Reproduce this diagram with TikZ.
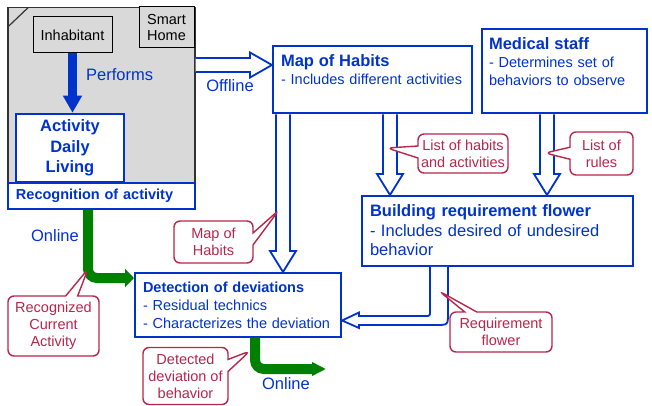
\documentclass[tikz,border=0pt]{standalone}
\usepackage{fontspec}
\setmainfont{Liberation Sans}
\usetikzlibrary{arrows.meta,calc,shapes.callouts}

\definecolor{homeblue}{RGB}{0,51,204}
\definecolor{notered}{RGB}{184,38,76}
\definecolor{onlinegreen}{RGB}{0,128,0}
\definecolor{homegray}{RGB}{217,217,217}

\newcommand{\txtsize}{\fontsize{14.5}{18}\selectfont}
\newcommand{\bigsize}{\fontsize{16.5}{20}\selectfont}
\newcommand{\boxhead}[1]{{\bigsize\bfseries #1}}

\begin{document}
\begin{tikzpicture}[x=1pt, y=-1pt,
	every node/.style={font=\txtsize},
	habitbox/.style={draw=homeblue, line width=2pt, fill=white, text=homeblue, align=left, anchor=north west, inner xsep=8pt, inner ysep=9pt},
	graybox/.style={draw=black, fill=homegray, inner sep=0pt, line width=1pt},
	lbl/.style={text=homeblue, font=\bigsize},
	note/.style={rectangle callout, rounded corners=6pt, draw=notered, line width=1.4pt, fill=white, text=notered, align=center, inner sep=1pt, callout pointer width=12pt, font=\fontsize{14.5}{17}\selectfont},
	hollow/.style={draw=homeblue, line width=1.8pt, fill=white},
	online/.style={draw=onlinegreen, line width=10pt, rounded corners=9pt}]
	\useasboundingbox (0,0) rectangle (652,406);

	% smart home
	\node[graybox, draw=black!80, line width=1.5pt, minimum width=187pt, minimum height=183pt, anchor=north west] (home) at (7,7) {};
	\draw[black!80, line width=1.2pt] ($(home.north west)+(0.75,20)$) -- ($(home.north west)+(21,0.75)$);
	\node[graybox, minimum width=79pt, minimum height=36pt] (inh) at (72.5,35) {Inhabitant};
	\node[graybox, minimum width=55pt, minimum height=41pt, align=center, font=\fontsize{14.5}{16}\selectfont] (sh) at (166.5,27.5) {Smart\\Home};
	\node[habitbox, anchor=center, align=center, line width=2.5pt, minimum width=108pt, minimum height=68pt, inner sep=0pt, font=\fontsize{16.5}{20.5}\selectfont\bfseries] (adl) at (70,148) {Activity\\Daily\\Living};
	\node[habitbox, inner ysep=0pt, text width=171pt, minimum height=26pt] (reco) at (7,182) {\bfseries Recognition of activity};
	\draw[homeblue, line width=8.5pt, -{Triangle[length=17pt,width=18pt]}] (inh.south) -- (inh.south |- adl.north)
		node[lbl, pos=0.35, right=6pt] (perf) {Performs};

	% boxes
	\node[habitbox, text width=183pt, text depth=37.5pt] (map) at (272,45) {\boxhead{Map of Habits}\\- Includes different activities};
	\node[habitbox, inner xsep=7pt, text width=151pt, text depth=54.5pt] (med) at (481,28) {\boxhead{Medical staff}\\- Determines set of\\behaviors to observe};
	\node[habitbox, text width=255pt, text depth=40pt, font=\fontsize{16.5}{19.5}\selectfont] (build) at (361,195) {\textbf{Building requirement flower}\\- Includes desired of undesired\\behavior};
	\node[habitbox, text width=190pt, text depth=35pt] (det) at (134,272) {\textbf{Detection of deviations}\\- Residual technics\\- Characterizes the deviation};

	% offline arrow
	\coordinate (offl) at (0,65);
	\draw[hollow] ($(home.east |- offl)+(0,-7)$) -- ($(map.west |- offl)+(-22,-7)$) -- ($(map.west |- offl)+(-22,-12.5)$) -- (map.west |- offl)
		-- ($(map.west |- offl)+(-22,12.5)$) -- ($(map.west |- offl)+(-22,7)$) -- ($(home.east |- offl)+(0,7)$);
	\node[lbl] (offtxt) at (230,86) {Offline};

	% block arrows down
	\foreach \x/\from/\to in {283/map/det, 390/map/build, 547/med/build}{
		\coordinate (ax) at (\x,0);
		\draw[hollow] ($(\from.south -| ax)+(-7,0)$) -- ($(\to.north -| ax)+(-7,-21)$) -- ($(\to.north -| ax)+(-13,-21)$) -- (\to.north -| ax)
			-- ($(\to.north -| ax)+(13,-21)$) -- ($(\to.north -| ax)+(7,-21)$) -- ($(\from.south -| ax)+(7,0)$);
	}

	% requirement flower back to detection
	\coordinate (bend) at (439,320.5);
	\draw[hollow] ($(build.south -| bend)+(-9,0)$) -- ($(bend)+(-9,-9.5)$) .. controls ($(bend)+(-9,-4.5)$) .. ($(bend)+(-14,-4.5)$)
		-- ($(det.east |- bend)+(17,-4.5)$) -- ($(det.east |- bend)+(17,-8)$) -- (det.east |- bend) -- ($(det.east |- bend)+(17,7.5)$)
		-- ($(det.east |- bend)+(17,4.5)$) -- ($(bend)+(-3,4.5)$) .. controls ($(bend)+(9,4.5)$) .. ($(bend)+(9,-7.5)$)
		-- ($(build.south -| bend)+(9,0)$);

	% online arrows
	\coordinate (g1) at (88,0);
	\draw[online, -{Triangle[length=9pt,width=18pt]}] (reco.south -| g1) |- ([yshift=-6pt]det.north west);
	\node[lbl] (on1) at (55,236) {Online};
	\coordinate (g2) at (255,0);
	\coordinate (gend) at (326,369);
	\draw[online, -{Triangle[length=14pt,width=13pt]}] (det.south -| g2) |- (gend);
	\node[lbl] (on2) at (286,384) {Online};

	% notes
	\node[note, minimum width=90pt, minimum height=39pt, callout absolute pointer={(387,148)}] (n1) at (463,153.5) {List of habits\\and activities};
	\node[note, minimum width=63pt, minimum height=43pt, callout absolute pointer={(545,153)}] (n2) at (601.5,153.5) {List of\\rules};
	\node[note, minimum width=79pt, minimum height=42pt, callout absolute pointer={(279,210)}] (n3) at (213.5,242) {Map of\\Habits};
	\node[note, minimum width=91pt, minimum height=60pt, callout absolute pointer={(88,269)}] (n4) at (53.5,326) {Recognized\\Current\\Activity};
	\node[note, minimum width=85pt, minimum height=57pt, callout absolute pointer={(250,351)}] (n5) at (185.5,376) {Detected\\deviation of\\behavior};
	\node[note, minimum width=102pt, minimum height=40pt, callout absolute pointer={(439,291)}] (n6) at (501,332) {Requirement\\flower};
\end{tikzpicture}
\end{document}
